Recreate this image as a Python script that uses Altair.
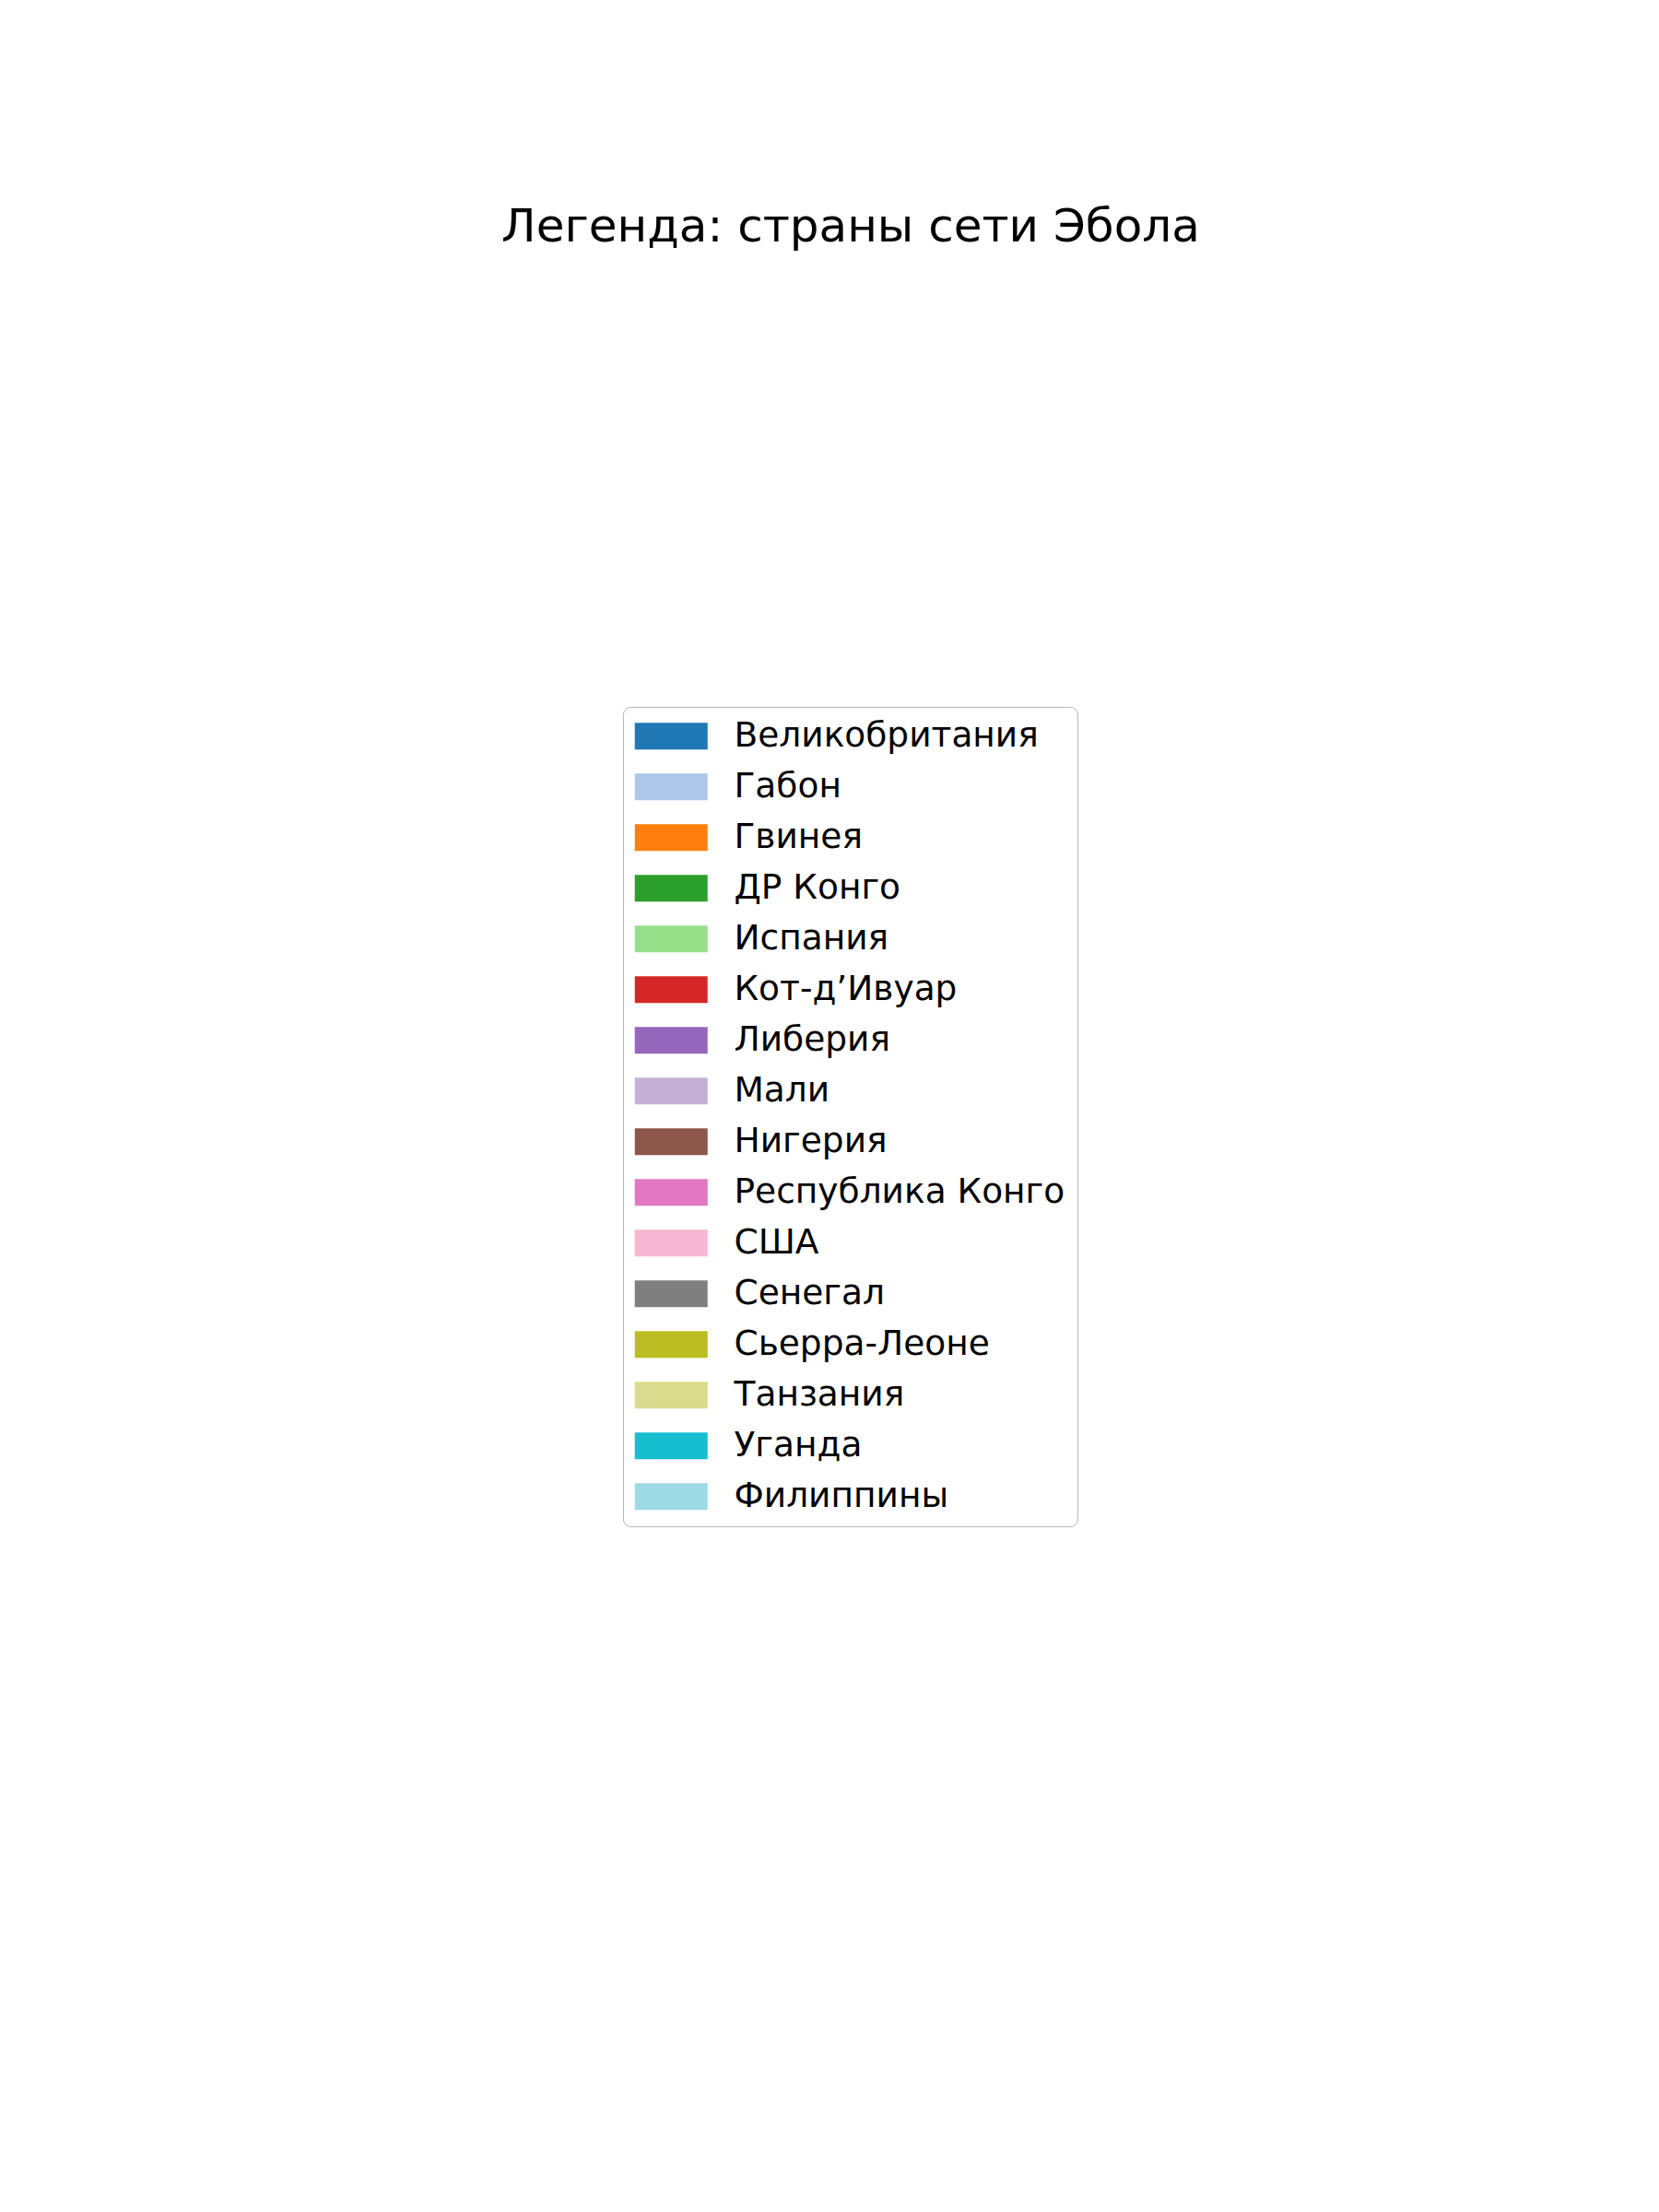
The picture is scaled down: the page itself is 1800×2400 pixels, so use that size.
import altair as alt
import pandas as pd

title_text = "Легенда: страны сети Эбола"
countries = [
    "Великобритания", "Габон", "Гвинея", "ДР Конго", "Испания",
    "Кот-д’Ивуар", "Либерия", "Мали", "Нигерия", "Республика Конго",
    "США", "Сенегал", "Сьерра-Леоне", "Танзания", "Уганда", "Филиппины",
]
colors = [
    "#1f77b4", "#aec7e8", "#ff7f0e", "#2ca02c", "#98df8a",
    "#d62728", "#9467bd", "#c5b0d5", "#8c564b", "#e377c2",
    "#f7b6d2", "#7f7f7f", "#bcbd22", "#dbdb8d", "#17becf", "#9edae5",
]

df = pd.DataFrame({"country": countries})

swatch = "M-1.267,-0.967H4.0V0.967H-1.267Z"

chart = (
    alt.Chart(df)
    .mark_square(opacity=0)
    .encode(
        color=alt.Color(
            "country:N",
            scale=alt.Scale(domain=countries, range=colors),
            legend=alt.Legend(
                title=None,
                orient="none",
                legendX=676,
                legendY=467,
                direction="vertical",
                symbolType=swatch,
                symbolSize=900,
                symbolOpacity=1,
                symbolStrokeWidth=0,
                labelFont="DejaVu Sans",
                labelFontSize=37.5,
                labelColor="black",
                labelLimit=0,
                labelOffset=70,
                rowPadding=16,
                padding=13,
                strokeColor="#b8b8b8",
                cornerRadius=8,
                fillColor="white",
            ),
        )
    )
    .properties(
        width=1800,
        height=2100,
        padding={"left": 0, "top": 300, "right": 0, "bottom": 0},
        autosize=alt.AutoSizeParams(type="none"),
        title=alt.TitleParams(
            text=title_text,
            font="DejaVu Sans",
            fontSize=50,
            fontWeight="normal",
            color="black",
            anchor="middle",
            baseline="alphabetic",
            offset=37,
            dx=23,
            dy=49,
        ),
    )
    .configure_view(stroke=None)
    .configure(background="white")
)

chart.save("out.html", embed_options={"renderer": "svg", "actions": False})
